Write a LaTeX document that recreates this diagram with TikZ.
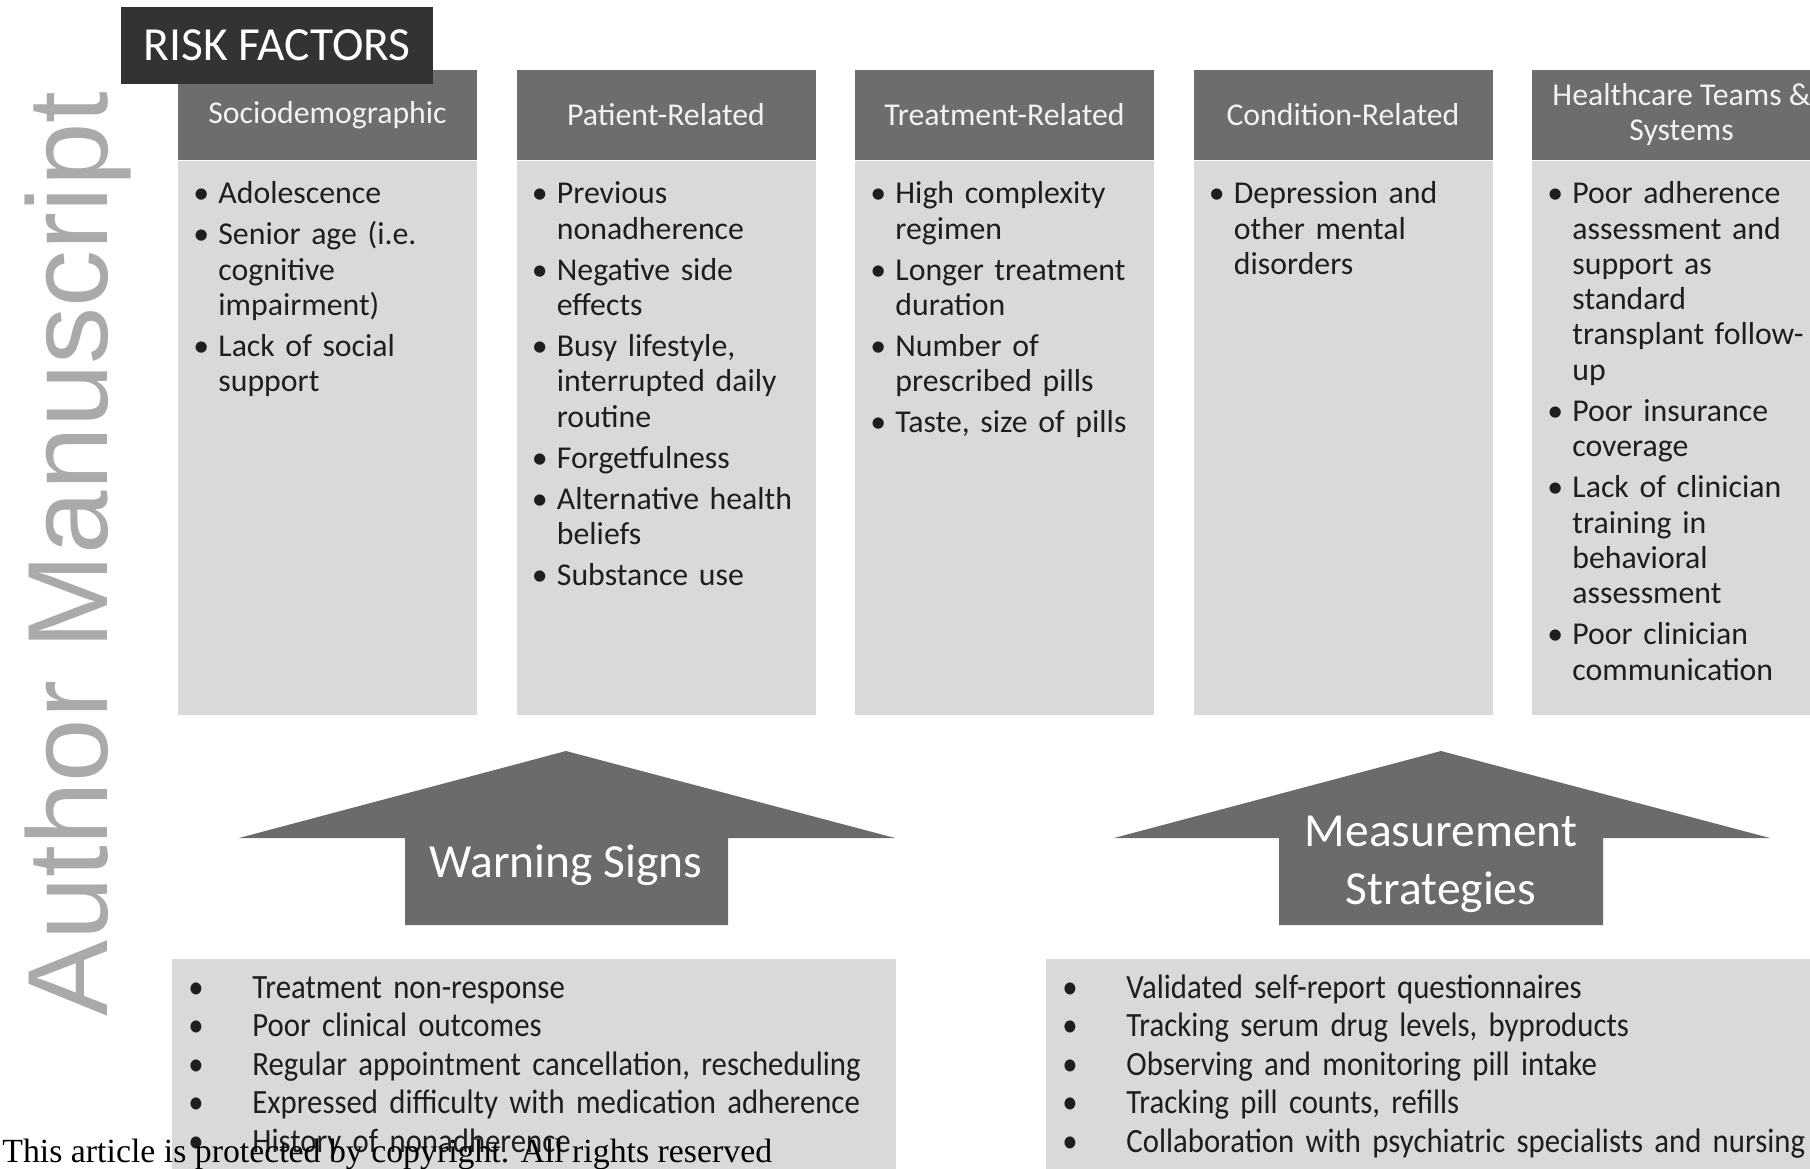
\documentclass[tikz,border=0pt]{standalone}
\usepackage{fontspec}
\setmainfont{Carlito}
\newfontfamily\signfont{Carlito}[FakeStretch=0.905]
\newfontfamily\markfont{Liberation Sans}
\newfontfamily\notefont{Liberation Serif}
\usepackage{enumitem}
\usetikzlibrary{positioning, calc}
\definecolor{headgray}{RGB}{109, 109, 109}
\definecolor{headtext}{RGB}{242, 242, 242}
\definecolor{bodygray}{RGB}{217, 217, 217}
\definecolor{riskdark}{RGB}{51, 51, 51}
\definecolor{arrowgray}{RGB}{107, 107, 107}
\definecolor{markgray}{RGB}{170, 170, 170}
\definecolor{inkgray}{RGB}{30, 30, 30}

\newlist{factoritems}{itemize}{1}
\setlist[factoritems]{label=\textbullet, leftmargin=12.5pt, labelwidth=12.5pt, labelsep=0pt, align=left, itemsep=2.9pt, parsep=0pt, topsep=0pt, partopsep=0pt}
\newlist{signitems}{itemize}{1}
\setlist[signitems]{label=\textbullet, leftmargin=32pt, labelwidth=32pt, labelsep=0pt, align=left, itemsep=0pt, parsep=0pt, topsep=0pt, partopsep=0pt}

\begin{document}
\begin{tikzpicture}[x=0.5pt, y=-0.5pt,
		headbox/.style={rectangle, fill=headgray, text=headtext, minimum width=149.5pt, minimum height=45pt, inner sep=0pt, align=center, font=\fontsize{15.9pt}{17.5pt}\selectfont},
		bodybox/.style={rectangle, fill=bodygray, minimum width=149.5pt, minimum height=277pt, inner sep=0pt},
		listbox/.style={anchor=north west, inner sep=0pt, text width=140pt, align=left, text=inkgray, font=\fontsize{15.9pt}{17.65pt}\selectfont},
		riskbox/.style={rectangle, fill=riskdark, text=white, minimum width=156pt, minimum height=38.5pt, inner sep=0pt, font=\fontsize{23.75pt}{29pt}\selectfont},
		signbox/.style={rectangle, fill=bodygray, anchor=north west, minimum height=112pt, inner sep=0pt},
		signtext/.style={anchor=north west, inner sep=0pt, text width=380pt, align=left, text=inkgray, font=\signfont\fontsize{17pt}{19.25pt}\selectfont},
		arrowlabel/.style={text=white, align=center, font=\fontsize{23.75pt}{29pt}\selectfont}
		]
		\useasboundingbox (0,0) rectangle (1810,1168);
		
		% Watermark
		\node[rotate=90, anchor=base, text=markgray, font=\markfont\fontsize{57pt}{57pt}\selectfont] (mark) at (107, 554) {Author Manuscript};
		
		% Risk factor columns
		\node[headbox] (h1) at (327.5, 115) {Sociodemographic};
		\node[bodybox, below=0pt of h1] (b1) {};
		\node[headbox] (h2) at (666, 115) {Patient-Related};
		\node[bodybox, below=0pt of h2] (b2) {};
		\node[headbox] (h3) at (1004.5, 115) {Treatment-Related};
		\node[bodybox, below=0pt of h3] (b3) {};
		\node[headbox] (h4) at (1343, 115) {Condition-Related};
		\node[bodybox, below=0pt of h4] (b4) {};
		\node[headbox] (h5) at (1681.5, 115) {Healthcare Teams \&\\Systems};
		\node[bodybox, below=0pt of h5] (b5) {};
		
		\node[riskbox] (risk) at (277, 45.5) {RISK FACTORS};
		
		\node[listbox] (l1) at (193, 168) {\begin{factoritems}
				\item Adolescence
				\item Senior age (i.e.\\cognitive\\impairment)
				\item Lack of social\\support
		\end{factoritems}};
		\node[listbox] (l2) at (531.5, 168) {\begin{factoritems}
				\item Previous\\nonadherence
				\item Negative side\\effects
				\item Busy lifestyle,\\interrupted daily\\routine
				\item Forgetfulness
				\item Alternative health\\beliefs
				\item Substance use
		\end{factoritems}};
		\node[listbox] (l3) at (870, 168) {\begin{factoritems}
				\item High complexity\\regimen
				\item Longer treatment\\duration
				\item Number of\\prescribed pills
				\item Taste, size of pills
		\end{factoritems}};
		\node[listbox] (l4) at (1208.5, 168) {\begin{factoritems}
				\item Depression and\\other mental\\disorders
		\end{factoritems}};
		\node[listbox] (l5) at (1547, 168) {\begin{factoritems}
				\item Poor adherence\\assessment and\\support as\\standard\\transplant follow-\\up
				\item Poor insurance\\coverage
				\item Lack of clinician\\training in\\behavioral\\assessment
				\item Poor clinician\\communication
		\end{factoritems}};
		
		% Up arrows
		\fill[arrowgray] (566,751) -- (895,838) -- (728,838) -- (728,925) -- (405,925) -- (405,838) -- (239,838) -- cycle;
		\node[arrowlabel] (warn) at (566, 865.5) {Warning Signs};
		\fill[arrowgray] (1441,751) -- (1770,838) -- (1603,838) -- (1603,925) -- (1279,925) -- (1279,838) -- (1114,838) -- cycle;
		\node[arrowlabel] (measure) at (1441, 864.5) {Measurement\\Strategies};
		
		% Bottom lists
		\node[signbox, minimum width=362pt] (wbox) at (172, 959) {};
		\node[signtext] (wlist) at (188, 959.5) {\begin{signitems}
				\item Treatment non-response
				\item Poor clinical outcomes
				\item Regular appointment cancellation, rescheduling
				\item Expressed difficulty with medication adherence
				\item History of nonadherence
		\end{signitems}};
		\node[signbox, minimum width=400pt] (mbox) at (1046, 959) {};
		\node[signtext] (mlist) at (1062, 959.5) {\begin{signitems}
				\item Validated self-report questionnaires
				\item Tracking serum drug levels, byproducts
				\item Observing and monitoring pill intake
				\item Tracking pill counts, refills
				\item Collaboration with psychiatric specialists and nursing
		\end{signitems}};
		
		\node[anchor=base west, inner sep=0pt, font=\notefont\fontsize{16.9pt}{16.9pt}\selectfont] (note) at (2, 1162) {This article is protected by copyright. All rights reserved};
\end{tikzpicture}
\end{document}
